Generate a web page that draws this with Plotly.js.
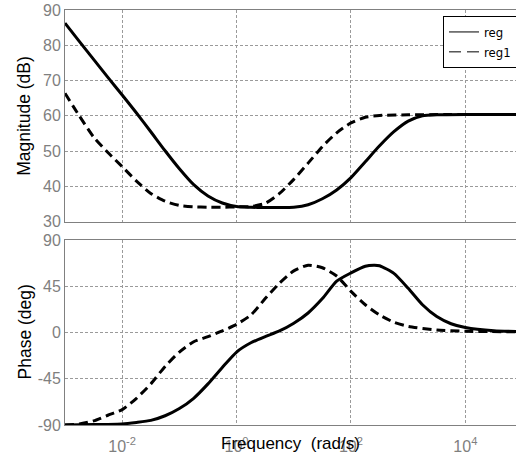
<!DOCTYPE html>
<html>
<head>
<meta charset="utf-8">
<script src="https://cdn.plot.ly/plotly-3.0.1.min.js"></script>
<style>html,body{margin:0;padding:0;background:#fff;}#chart{width:516px;height:457px;}</style>
</head>
<body>
<div id="chart"></div>
<script>
// log10 of frequency (rad/s) and values
var magRegExp = [-3.0,-2.75,-2.5,-2.25,-2.0,-1.75,-1.5,-1.25,-1.0,-0.75,-0.5,-0.25,0.0,0.25,0.5,0.75,1.0,1.25,1.5,1.75,2.0,2.25,2.5,2.75,3.0,3.25,3.5,4.0,4.9];
var magReg    = [86.3,81.1,76.0,70.9,65.9,60.8,55.5,50.1,45.0,40.5,37.3,35.3,34.3,34.1,34.0,34.0,34.1,34.8,36.5,39.0,42.5,47.0,51.5,55.5,58.5,60.0,60.3,60.4,60.4];

var magReg1Exp = [-3.0,-2.75,-2.5,-2.25,-2.0,-1.75,-1.5,-1.25,-1.0,-0.75,-0.5,-0.25,0.0,0.25,0.5,0.75,1.0,1.25,1.5,1.75,2.0,2.25,2.5,3.0,4.9];
var magReg1    = [66.4,60.0,54.0,49.6,45.6,41.5,38.0,35.8,34.6,34.2,34.1,34.1,34.2,34.3,35.2,38.0,42.0,46.6,51.3,55.2,58.0,59.6,60.1,60.3,60.4];

var phRegExp = [-3.0,-2.5,-2.0,-1.75,-1.5,-1.25,-1.0,-0.75,-0.5,-0.25,0.0,0.25,0.5,0.75,1.0,1.25,1.5,1.75,2.0,2.25,2.4,2.5,2.75,3.0,3.25,3.5,3.75,4.0,4.5,4.9];
var phReg    = [-90,-89.6,-89,-87.5,-85.5,-81,-74,-64,-50,-34,-19,-10,-4,1.5,9,19,33,50,58,64.5,65.5,65,57.5,43,27,15.5,8.5,4.8,1.7,1.0];

var phReg1Exp = [-3.0,-2.75,-2.5,-2.25,-2.0,-1.75,-1.5,-1.25,-1.0,-0.75,-0.5,-0.25,0.0,0.25,0.5,0.75,1.0,1.25,1.5,1.75,2.0,2.25,2.5,2.75,3.0,3.5,4.0,4.9];
var phReg1    = [-90,-89,-86,-80.5,-75,-64,-50,-33,-19,-9,-4,1.5,8,17,33,48,60,65.5,63,55,40,27,17,10,6,2.5,1.2,0.7];

var seriesNames = ['reg', 'reg1'];
var freqTickVals = [1e-2, 1, 1e2, 1e4];
var freqTickText = ['10<sup>-2</sup>', '10<sup>0</sup>', '10<sup>2</sup>', '10<sup>4</sup>'];
var magTickVals = [30, 40, 50, 60, 70, 80, 90];
var magTickText = ['30', '40', '50', '60', '70', '80', '90'];
var phaseTickVals = [-90, -45, 0, 45, 90];
var phaseTickText = ['-90', '-45', '0', '45', '90'];

function toFreq(e) { return e.map(function (v) { return Math.pow(10, v); }); }

var solid = {color: '#000', width: 3, shape: 'spline', smoothing: 0.6};
var dashed = {color: '#000', width: 3, dash: '9px,5px', shape: 'spline', smoothing: 0.6};

var traces = [
  {x: toFreq(magRegExp), y: magReg, xaxis: 'x', yaxis: 'y', mode: 'lines', line: solid, showlegend: false, hoverinfo: 'skip'},
  {x: toFreq(magReg1Exp), y: magReg1, xaxis: 'x', yaxis: 'y', mode: 'lines', line: dashed, showlegend: false, hoverinfo: 'skip'},
  {x: toFreq(phRegExp), y: phReg, xaxis: 'x2', yaxis: 'y2', mode: 'lines', line: solid, showlegend: false, hoverinfo: 'skip'},
  {x: toFreq(phReg1Exp), y: phReg1, xaxis: 'x2', yaxis: 'y2', mode: 'lines', line: dashed, showlegend: false, hoverinfo: 'skip'},
  // legend entries (thin samples as in the reference legend)
  {x: [null], y: [null], xaxis: 'x', yaxis: 'y', mode: 'lines', name: seriesNames[0], line: {color: '#000', width: 1}},
  {x: [null], y: [null], xaxis: 'x', yaxis: 'y', mode: 'lines', name: seriesNames[1], line: {color: '#000', width: 1, dash: '12px,6px'}}
];

var tickFont = {family: 'Liberation Sans, Arial, sans-serif', size: 16, color: '#7f7f7f'};
var gridStyle = {showgrid: true, gridcolor: '#9a9a9a', gridwidth: 1, griddash: '3px,2px', zeroline: false,
  showline: true, mirror: true, linecolor: '#808080', linewidth: 1, ticks: '', tickfont: tickFont};

var xBase = Object.assign({type: 'log', range: [-3, 4.885], tickvals: freqTickVals, ticktext: freqTickText}, gridStyle);

// plot area spans x 65..516 px
function px(xPix) { return (xPix - 65) / 451; }

var layout = {
  width: 516, height: 457,
  margin: {l: 65, r: 0, t: 0, b: 0, autoexpand: false},
  paper_bgcolor: '#fff', plot_bgcolor: '#fff',
  font: {family: 'Liberation Sans, Arial, sans-serif', color: '#000'},
  xaxis: Object.assign({}, xBase, {anchor: 'y', showticklabels: false}),
  xaxis2: Object.assign({}, xBase, {anchor: 'y2', showticklabels: true, ticklabelstandoff: 7}),
  yaxis: Object.assign({domain: [0.5149, 0.9781], range: [30, 90], tickvals: magTickVals, ticktext: magTickText, anchor: 'x'}, gridStyle),
  yaxis2: Object.assign({domain: [0.0700, 0.4748], range: [-90, 90], tickvals: phaseTickVals, ticktext: phaseTickText, anchor: 'x2'}, gridStyle),
  showlegend: true,
  legend: {x: px(443), y: 1 - 16 / 457, xanchor: 'left', yanchor: 'top', bgcolor: '#fff',
    bordercolor: '#000', borderwidth: 1, font: {family: 'Liberation Sans Narrow, DejaVu Sans Condensed, sans-serif', size: 13, color: '#000'}},
  annotations: [
    {text: 'Magnitude (dB)', xref: 'paper', yref: 'paper', x: px(24), y: 1 - 115.8 / 457, textangle: -90,
      showarrow: false, xanchor: 'center', yanchor: 'middle', font: {size: 17.5, color: '#000'}},
    {text: 'Phase (deg)', xref: 'paper', yref: 'paper', x: px(24), y: 1 - 332.5 / 457, textangle: -90,
      showarrow: false, xanchor: 'center', yanchor: 'middle', font: {size: 17.5, color: '#000'}},
    {text: 'Frequency  (rad/s)', xref: 'paper', yref: 'paper', x: px(290), y: 1 - 443 / 457,
      showarrow: false, xanchor: 'center', yanchor: 'middle', font: {size: 17, color: '#000'}}
  ]
};

Plotly.newPlot('chart', traces, layout, {displayModeBar: false, staticPlot: true});
</script>
</body>
</html>
